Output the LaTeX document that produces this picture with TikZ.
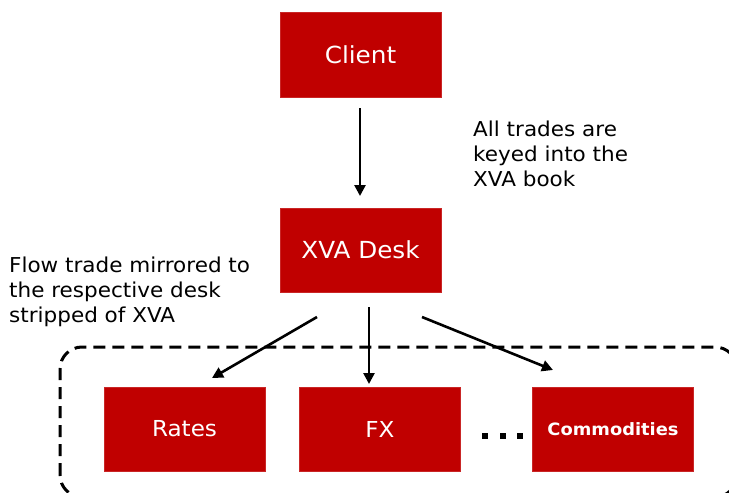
\documentclass[tikz,border=0pt]{standalone}
\usepackage{fontspec}
\setmainfont{DejaVu Sans}[FakeStretch=1.05]
\usetikzlibrary{arrows.meta}
\definecolor{boxred}{HTML}{C00000}
\tikzset{
  redbox/.style={fill=boxred, draw=boxred!85!white, line width=0.6pt, minimum width=161pt, minimum height=84pt, inner sep=0pt, text=white, font=\fontsize{22}{26}\selectfont},
  flowarrow/.style={line width=2.6pt, -{Triangle[length=11pt,width=11pt]}},
  note/.style={align=left, inner sep=0pt, anchor=north west, font=\fontsize{20.5}{25}\selectfont},
  groupline/.style={line width=3pt, dash pattern=on 12pt off 7pt, rounded corners=22pt},
  dot/.style={fill=black, minimum size=6pt, inner sep=0pt}
}
\begin{document}
\begin{tikzpicture}[x=1pt,y=-1pt]
\useasboundingbox (0,0) rectangle (729,493);
\clip (0,0) rectangle (729,493);
\node[redbox, minimum height=85pt, font=\fontsize{23.5}{27}\selectfont] (client) at (360.5,54.5) {Client};
\node[redbox, font=\fontsize{23.5}{27}\selectfont] (xva) at (360.5,250) {XVA Desk};
\node[redbox] (rates) at (184.5,429) {Rates};
\node[redbox] (fx) at (380,429.5) {FX};
\node[redbox, font=\fontsize{17}{20}\selectfont\bfseries] (comm) at (613,429) {Commodities};
\node[dot] (d1) at (485,436) {};
\node[dot] (d2) at (502.5,436) {};
\node[dot] (d3) at (520,436) {};
\node[note] (keyed) at (473,120.5) {All trades are\\keyed into the\\XVA book};
\node[note] (flow) at (9,256.5) {Flow trade mirrored to\\the respective desk\\stripped of XVA};
\coordinate (c1) at (360,108);
\coordinate (c2) at (360,196);
\draw[flowarrow] (c1) -- (c2);
\coordinate (l1) at (317,317);
\coordinate (l2) at (212,378);
\coordinate (m1) at (369,307);
\coordinate (m2) at (369,384);
\coordinate (r1) at (422,317);
\coordinate (r2) at (553,370);
\draw[flowarrow] (l1) -- (l2);
\draw[flowarrow] (m1) -- (m2);
\draw[flowarrow] (r1) -- (r2);
\draw[groupline] (60,497) -- (60,347) -- (737,347) -- (737,497) -- cycle;
\end{tikzpicture}
\end{document}
